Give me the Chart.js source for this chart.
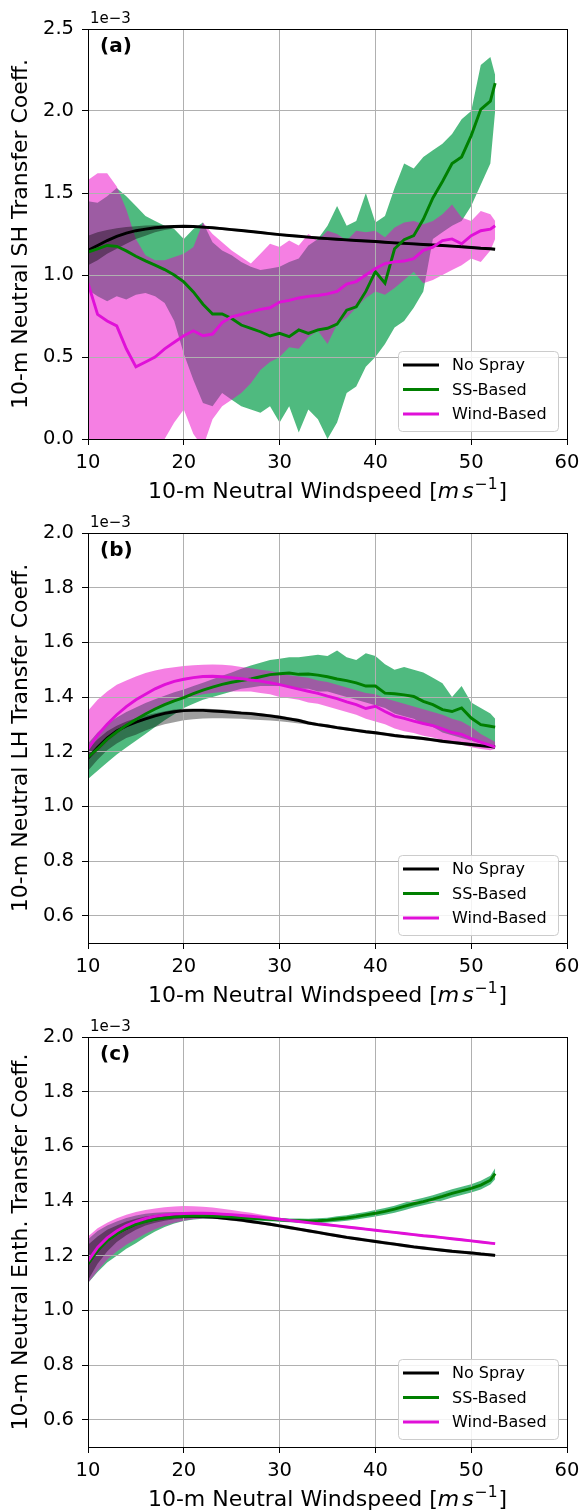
<!DOCTYPE html>
<html><head><meta charset="utf-8">
<script src="https://cdn.jsdelivr.net/npm/chart.js@4/dist/chart.umd.min.js"></script>
<style>
html,body{margin:0;padding:0;background:#fff;}
body{width:579px;height:1512px;position:relative;overflow:hidden;}
.panel{position:absolute;left:0;width:579px;height:504px;}
canvas{display:block;}
</style></head>
<body>
<div class="panel" style="top:0px"><canvas id="cA" width="579" height="504"></canvas></div>
<div class="panel" style="top:504px"><canvas id="cB" width="579" height="504"></canvas></div>
<div class="panel" style="top:1008px"><canvas id="cC" width="579" height="504"></canvas></div>
<script>
// ---------- data (transfer coefficients in units of 1e-3) ----------
const windspeed = [10,11,12,13,14,15,16,17,18,19,20,21,22,23,24,25,26,27,28,29,30,31,32,33,34,35,36,37,38,39,40,41,42,43,44,45,46,47,48,49,50,51,52,52.5];
const seriesNames = ['No Spray','SS-Based','Wind-Based'];
const xTickValues = [10,20,30,40,50,60];
const shTickValues = [0.0,0.5,1.0,1.5,2.0,2.5];
const lhTickValues = [0.6,0.8,1.0,1.2,1.4,1.6,1.8,2.0];
const enthTickValues = [0.6,0.8,1.0,1.2,1.4,1.6,1.8,2.0];

// (a) sensible heat
const shNoSpray   = [1.15,1.18,1.21,1.235,1.255,1.27,1.28,1.288,1.293,1.296,1.297,1.296,1.292,1.288,1.283,1.277,1.271,1.265,1.259,1.252,1.246,1.241,1.236,1.231,1.226,1.222,1.218,1.214,1.21,1.207,1.204,1.2,1.196,1.193,1.19,1.186,1.183,1.18,1.176,1.172,1.168,1.163,1.16,1.157];
const shNoSprayLo = [1.06,1.09,1.13,1.16,1.19,1.22,1.24,1.26,1.275,1.283,1.289,1.288,1.284,1.28,1.275,1.269,1.263,1.257,1.251,1.244,1.238,1.233,1.228,1.223,1.218,1.214,1.21,1.206,1.202,1.199,1.196,1.192,1.188,1.185,1.182,1.178,1.175,1.172,1.168,1.164,1.16,1.155,1.152,1.149];
const shNoSprayHi = [1.24,1.26,1.275,1.285,1.293,1.298,1.302,1.304,1.305,1.305,1.305,1.304,1.3,1.296,1.291,1.285,1.279,1.273,1.267,1.26,1.254,1.249,1.244,1.239,1.234,1.23,1.226,1.222,1.218,1.215,1.212,1.208,1.204,1.201,1.198,1.194,1.191,1.188,1.184,1.18,1.176,1.171,1.168,1.165];
const shSS   = [1.14,1.16,1.18,1.175,1.147,1.114,1.086,1.06,1.033,1.0,0.958,0.897,0.822,0.762,0.762,0.735,0.695,0.675,0.654,0.628,0.644,0.624,0.665,0.644,0.665,0.675,0.70,0.786,0.806,0.90,1.02,0.95,1.16,1.215,1.24,1.34,1.47,1.57,1.68,1.72,1.85,2.01,2.06,2.17];
const shSSLo = [0.91,0.87,0.84,0.87,0.85,0.88,0.89,0.87,0.83,0.72,0.52,0.36,0.22,0.20,0.28,0.24,0.20,0.18,0.16,0.20,0.10,0.20,0.04,0.18,0.12,0.00,0.10,0.28,0.32,0.44,0.50,0.58,0.68,0.72,0.80,0.90,1.22,1.26,1.30,1.33,1.42,1.55,1.68,2.0];
const shSSHi = [1.45,1.44,1.48,1.53,1.48,1.42,1.36,1.33,1.30,1.28,1.22,1.28,1.32,1.20,1.15,1.12,1.08,1.05,1.03,1.04,1.05,1.08,1.10,1.18,1.22,1.30,1.42,1.30,1.33,1.50,1.32,1.36,1.53,1.68,1.65,1.72,1.76,1.80,1.86,1.95,2.0,2.28,2.33,2.22];
const shWind   = [0.95,0.76,0.72,0.69,0.55,0.44,0.47,0.50,0.55,0.59,0.63,0.66,0.63,0.64,0.71,0.745,0.76,0.775,0.79,0.80,0.835,0.845,0.86,0.87,0.875,0.885,0.90,0.945,0.96,1.0,1.04,1.07,1.08,1.085,1.10,1.15,1.17,1.21,1.22,1.19,1.24,1.27,1.28,1.30];
const shWindLo = [-0.3,-0.3,-0.3,-0.3,-0.3,-0.3,-0.3,-0.2,0.0,0.10,0.18,0.03,-0.05,0.12,0.20,0.24,0.28,0.34,0.42,0.47,0.50,0.56,0.55,0.62,0.66,0.58,0.70,0.74,0.80,0.86,0.90,0.88,0.92,0.97,1.02,0.95,0.97,1.00,1.03,1.06,1.10,1.08,1.15,1.22];
const shWindHi = [1.58,1.62,1.62,1.54,1.40,1.22,1.12,1.09,1.09,1.11,1.13,1.17,1.32,1.25,1.20,1.15,1.11,1.07,1.13,1.19,1.17,1.21,1.18,1.25,1.21,1.27,1.25,1.21,1.27,1.26,1.27,1.23,1.29,1.32,1.33,1.31,1.33,1.37,1.43,1.35,1.33,1.39,1.37,1.33];

// (b) latent heat
const lhNoSpray   = [1.177,1.215,1.25,1.276,1.294,1.308,1.32,1.331,1.34,1.346,1.35,1.351,1.351,1.349,1.347,1.344,1.341,1.339,1.335,1.331,1.326,1.32,1.314,1.305,1.299,1.294,1.288,1.283,1.278,1.273,1.269,1.264,1.259,1.255,1.252,1.248,1.243,1.238,1.234,1.23,1.226,1.222,1.219,1.217];
const lhNoSprayLo = [1.13,1.17,1.205,1.23,1.25,1.262,1.277,1.29,1.30,1.308,1.315,1.319,1.321,1.322,1.322,1.321,1.32,1.318,1.316,1.314,1.311,1.308,1.303,1.299,1.293,1.288,1.282,1.277,1.272,1.267,1.263,1.258,1.253,1.249,1.246,1.242,1.237,1.232,1.228,1.224,1.22,1.216,1.213,1.211];
const lhNoSprayHi = [1.21,1.245,1.275,1.295,1.31,1.322,1.332,1.341,1.348,1.354,1.357,1.358,1.358,1.356,1.354,1.351,1.348,1.345,1.341,1.337,1.332,1.326,1.32,1.311,1.305,1.30,1.294,1.289,1.284,1.279,1.275,1.27,1.265,1.261,1.258,1.254,1.249,1.244,1.24,1.236,1.232,1.228,1.225,1.223];
const lhSS   = [1.18,1.21,1.245,1.272,1.297,1.318,1.338,1.356,1.372,1.386,1.398,1.412,1.425,1.436,1.446,1.454,1.46,1.466,1.474,1.482,1.485,1.488,1.483,1.484,1.48,1.474,1.466,1.46,1.452,1.44,1.44,1.414,1.412,1.408,1.402,1.384,1.372,1.354,1.347,1.36,1.323,1.299,1.293,1.29];
const lhSSLo = [1.10,1.13,1.16,1.19,1.215,1.24,1.265,1.29,1.315,1.337,1.36,1.375,1.39,1.40,1.41,1.42,1.43,1.435,1.44,1.44,1.44,1.44,1.43,1.43,1.42,1.42,1.41,1.40,1.39,1.38,1.37,1.36,1.34,1.33,1.32,1.30,1.29,1.27,1.26,1.25,1.24,1.23,1.22,1.22];
const lhSSHi = [1.23,1.27,1.30,1.325,1.345,1.362,1.378,1.392,1.405,1.417,1.427,1.44,1.452,1.465,1.478,1.49,1.503,1.515,1.525,1.535,1.54,1.545,1.545,1.55,1.555,1.55,1.57,1.545,1.535,1.56,1.55,1.52,1.50,1.51,1.50,1.49,1.47,1.45,1.40,1.44,1.38,1.36,1.34,1.32];
const lhWind   = [1.21,1.26,1.30,1.335,1.365,1.39,1.41,1.43,1.445,1.457,1.465,1.471,1.475,1.476,1.474,1.471,1.467,1.462,1.458,1.452,1.445,1.437,1.429,1.421,1.413,1.403,1.394,1.382,1.372,1.358,1.366,1.347,1.33,1.322,1.312,1.303,1.295,1.283,1.27,1.263,1.248,1.235,1.223,1.217];
const lhWindLo = [1.17,1.20,1.235,1.265,1.29,1.315,1.335,1.355,1.37,1.383,1.395,1.403,1.41,1.415,1.418,1.42,1.42,1.42,1.415,1.41,1.40,1.395,1.39,1.38,1.375,1.365,1.355,1.345,1.335,1.32,1.31,1.30,1.285,1.275,1.268,1.258,1.252,1.242,1.232,1.226,1.216,1.21,1.205,1.21];
const lhWindHi = [1.35,1.39,1.42,1.445,1.46,1.475,1.488,1.497,1.504,1.509,1.513,1.516,1.518,1.519,1.518,1.515,1.51,1.505,1.50,1.495,1.488,1.48,1.475,1.47,1.46,1.455,1.445,1.435,1.425,1.415,1.41,1.395,1.385,1.375,1.365,1.355,1.345,1.335,1.32,1.31,1.29,1.265,1.245,1.235];

// (c) enthalpy
const ehNoSpray   = [1.172,1.22,1.257,1.282,1.30,1.316,1.327,1.334,1.34,1.343,1.344,1.344,1.343,1.341,1.338,1.334,1.33,1.325,1.32,1.315,1.309,1.303,1.297,1.291,1.285,1.279,1.273,1.267,1.262,1.257,1.252,1.247,1.242,1.237,1.232,1.228,1.224,1.22,1.216,1.213,1.21,1.206,1.203,1.201];
const ehNoSprayLo = [1.11,1.17,1.215,1.25,1.275,1.295,1.31,1.32,1.328,1.333,1.336,1.338,1.337,1.335,1.332,1.328,1.324,1.319,1.314,1.309,1.303,1.297,1.291,1.285,1.279,1.273,1.267,1.261,1.256,1.251,1.246,1.241,1.236,1.231,1.226,1.222,1.218,1.214,1.21,1.207,1.204,1.2,1.197,1.195];
const ehNoSprayHi = [1.24,1.27,1.295,1.31,1.325,1.335,1.343,1.348,1.352,1.353,1.352,1.35,1.349,1.347,1.344,1.34,1.336,1.331,1.326,1.321,1.315,1.309,1.303,1.297,1.291,1.285,1.279,1.273,1.268,1.263,1.258,1.253,1.248,1.243,1.238,1.234,1.23,1.226,1.222,1.219,1.216,1.212,1.209,1.207];
const ehSS   = [1.17,1.22,1.255,1.28,1.30,1.315,1.325,1.333,1.338,1.342,1.344,1.345,1.345,1.345,1.343,1.341,1.339,1.337,1.335,1.333,1.331,1.329,1.328,1.327,1.328,1.330,1.334,1.338,1.343,1.349,1.355,1.362,1.37,1.38,1.39,1.398,1.407,1.417,1.428,1.437,1.446,1.458,1.476,1.50];
const ehSSLo = [1.10,1.14,1.175,1.20,1.225,1.245,1.268,1.288,1.305,1.318,1.327,1.332,1.335,1.336,1.335,1.334,1.332,1.33,1.328,1.326,1.324,1.322,1.32,1.319,1.319,1.321,1.324,1.328,1.332,1.338,1.343,1.35,1.357,1.366,1.376,1.384,1.393,1.402,1.413,1.422,1.431,1.442,1.46,1.48];
const ehSSHi = [1.26,1.29,1.31,1.325,1.338,1.347,1.353,1.357,1.359,1.36,1.36,1.359,1.357,1.355,1.352,1.349,1.347,1.344,1.342,1.34,1.338,1.336,1.336,1.335,1.337,1.339,1.344,1.348,1.354,1.36,1.367,1.374,1.383,1.394,1.404,1.412,1.421,1.432,1.443,1.452,1.461,1.474,1.492,1.52];
const ehWind   = [1.18,1.23,1.265,1.29,1.31,1.325,1.336,1.344,1.349,1.352,1.354,1.355,1.355,1.354,1.352,1.35,1.347,1.344,1.341,1.337,1.333,1.329,1.325,1.321,1.317,1.313,1.309,1.305,1.301,1.297,1.293,1.289,1.285,1.281,1.277,1.273,1.27,1.266,1.262,1.258,1.254,1.25,1.246,1.244];
const ehWindLo = [1.10,1.145,1.185,1.215,1.24,1.26,1.28,1.297,1.31,1.32,1.328,1.333,1.336,1.337,1.337,1.337,1.336,1.334,1.332,1.33,1.327,1.325,1.321,1.317,1.313,1.309,1.305,1.301,1.297,1.293,1.289,1.285,1.281,1.277,1.273,1.269,1.266,1.262,1.258,1.254,1.25,1.246,1.242,1.24];
const ehWindHi = [1.27,1.30,1.32,1.337,1.35,1.36,1.367,1.373,1.377,1.38,1.382,1.381,1.379,1.376,1.372,1.367,1.362,1.357,1.351,1.345,1.339,1.333,1.329,1.325,1.321,1.317,1.313,1.309,1.305,1.301,1.297,1.293,1.289,1.285,1.281,1.277,1.274,1.27,1.266,1.262,1.258,1.254,1.25,1.248];

// ---------- styling ----------
const FONT = "'DejaVu Sans', 'Liberation Sans', sans-serif";
const LINE_COLORS = {black:'#000000', green:'#007f00', magenta:'#e010d8'};
const FILL_COLORS = {black:'rgba(0,0,0,0.38)', green:'rgba(60,179,113,0.9)', magenta:'rgba(235,0,200,0.5)'};

Chart.defaults.font.family = FONT;

const pts = ys => windspeed.map((x, i) => ({x: x, y: ys[i]}));
const align = p => Math.round(p - 0.5) + 0.5;

function lineDs(label, ys, color, order, rank, gridAbove) {
  return {label: label, data: pts(ys), borderColor: color, backgroundColor: color, borderWidth: 2.9,
          pointRadius: 0, fill: false, tension: 0, order: order, legendRank: rank, gridAbove: !!gridAbove};
}
function bandDs(lo, hi, color, order) {
  return [
    {label: '', data: pts(hi), borderWidth: 0, pointRadius: 0, fill: false, order: order},
    {label: '', data: pts(lo), borderWidth: 0, pointRadius: 0, fill: '-1', backgroundColor: color, order: order}
  ];
}

const panelDecor = {
  id: 'panelDecor',
  beforeDatasetDraw(chart, args) {
    const ds = chart.data.datasets[args.index];
    if (!ds.gridAbove) return;
    const ctx = chart.ctx, a = chart.chartArea, xs = chart.scales.x, ys = chart.scales.y;
    ctx.save();
    ctx.strokeStyle = '#b0b0b0'; ctx.lineWidth = 1;
    xs.ticks.forEach(t => {
      if (t.value <= xs.min || t.value >= xs.max) return;
      const px = align(xs.getPixelForValue(t.value));
      ctx.beginPath(); ctx.moveTo(px, a.top); ctx.lineTo(px, a.bottom); ctx.stroke();
    });
    ys.ticks.forEach(t => {
      if (t.value <= ys.min || t.value >= ys.max) return;
      const py = align(ys.getPixelForValue(t.value));
      ctx.beginPath(); ctx.moveTo(a.left, py); ctx.lineTo(a.right, py); ctx.stroke();
    });
    ctx.restore();
  },
  afterDatasetsDraw(chart) {
    const ctx = chart.ctx, a = chart.chartArea;
    ctx.save();
    ctx.strokeStyle = '#000'; ctx.lineWidth = 1;
    const l = align(a.left), r = align(a.right), t = align(a.top), b = align(a.bottom);
    ctx.strokeRect(l, t, r - l, b - t);
    ctx.restore();
  },
  afterDraw(chart, args, opts) {
    const ctx = chart.ctx, a = chart.chartArea;
    ctx.save();
    // offset text
    ctx.fillStyle = '#000';
    ctx.font = '15px ' + FONT; ctx.textAlign = 'left'; ctx.textBaseline = 'alphabetic';
    ctx.fillText(opts.offsetText, a.left + 2, a.top - 6);
    // panel label
    ctx.font = 'bold 20px ' + FONT; ctx.textBaseline = 'middle';
    ctx.fillText(opts.label, a.left + 12, a.top + 18);
    // x-axis title with math units
    const parts = [
      {t: '10-m Neutral Windspeed [', f: '22px ' + FONT, dy: 0, gap: 0},
      {t: 'm', f: 'italic 22px ' + FONT, dy: 0, gap: 3},
      {t: 's', f: 'italic 22px ' + FONT, dy: 0, gap: 1},
      {t: '\u22121', f: '15.5px ' + FONT, dy: -9, gap: 1},
      {t: ']', f: '22px ' + FONT, dy: 0, gap: 0}
    ];
    let total = 0;
    parts.forEach(p => { ctx.font = p.f; p.w = ctx.measureText(p.t).width; total += p.w + p.gap; });
    let x = (a.left + a.right) / 2 - total / 2;
    const base = a.bottom + 59;
    ctx.textBaseline = 'alphabetic'; ctx.textAlign = 'left';
    parts.forEach(p => { ctx.font = p.f; ctx.fillText(p.t, x, base + p.dy); x += p.w + p.gap; });
    // legend
    const items = chart.data.datasets.filter(d => d.legendRank !== undefined).sort((p, q) => p.legendRank - q.legendRank);
    const bw = 160, bh = 80;
    const bx = Math.round(a.right - 9 - bw), by = Math.round(a.bottom - 8 - bh);
    ctx.beginPath();
    if (ctx.roundRect) ctx.roundRect(bx + 0.5, by + 0.5, bw, bh, 4); else ctx.rect(bx + 0.5, by + 0.5, bw, bh);
    ctx.fillStyle = 'rgba(255,255,255,0.85)'; ctx.fill();
    ctx.strokeStyle = '#cccccc'; ctx.lineWidth = 1; ctx.stroke();
    ctx.font = '16px ' + FONT; ctx.textBaseline = 'middle';
    items.forEach((d, i) => {
      const yy = by + 14 + i * 24.5;
      ctx.strokeStyle = d.borderColor; ctx.lineWidth = 3;
      ctx.beginPath(); ctx.moveTo(bx + 5, yy); ctx.lineTo(bx + 41, yy); ctx.stroke();
      ctx.fillStyle = '#000'; ctx.fillText(d.label, bx + 54, yy + 1);
    });
    ctx.restore();
  }
};

function makePanel(id, cfg) {
  const datasets = [
    lineDs(seriesNames[2], cfg.wind, LINE_COLORS.magenta, 0, 2, false),
    lineDs(seriesNames[1], cfg.ss, LINE_COLORS.green, 1, 1, false),
    lineDs(seriesNames[0], cfg.no, LINE_COLORS.black, 2, 0, true)
  ].concat(
    bandDs(cfg.noLo, cfg.noHi, FILL_COLORS.black, 3),
    bandDs(cfg.windLo, cfg.windHi, FILL_COLORS.magenta, 4),
    bandDs(cfg.ssLo, cfg.ssHi, FILL_COLORS.green, 5)
  );
  const gridOpts = {color: '#b0b0b0', lineWidth: 1, tickLength: 6, tickColor: '#000', tickWidth: 1, drawTicks: true};
  return new Chart(document.getElementById(id), {
    type: 'line',
    data: {datasets: datasets},
    plugins: [panelDecor],
    options: {
      responsive: false, animation: false, events: [],
      layout: {padding: {left: 0, right: 12, top: 29, bottom: 0}},
      plugins: {legend: {display: false}, tooltip: {enabled: false},
                panelDecor: {label: cfg.label, offsetText: '1e\u22123'}},
      scales: {
        x: {type: 'linear', min: 10, max: 60,
            afterBuildTicks: s => { s.ticks = xTickValues.map(v => ({value: v})); },
            afterFit: s => { s.height = 65; s.paddingLeft = 0; s.paddingRight = 0; },
            ticks: {color: '#000', font: {size: 19.5, family: FONT}, padding: 6, maxRotation: 0, minRotation: 0, autoSkip: false,
                    callback: v => String(v)},
            grid: gridOpts, border: {color: '#000', width: 1}},
        y: {type: 'linear', min: cfg.yMin, max: cfg.yMax,
            afterBuildTicks: s => { s.ticks = cfg.yTicks.map(v => ({value: v})); },
            afterFit: s => { s.width = 88; s.paddingTop = 0; s.paddingBottom = 0; },
            ticks: {color: '#000', font: {size: 19.5, family: FONT}, padding: 8, autoSkip: false,
                    callback: v => Number(v).toFixed(1)},
            grid: gridOpts, border: {color: '#000', width: 1},
            title: {display: true, text: cfg.yTitle, color: '#000', font: {size: 22, family: FONT}, padding: {top: 8, bottom: 0}}}
      }
    }
  });
}

makePanel('cA', {label: '(a)', yTitle: '10-m Neutral SH Transfer Coeff.', yMin: 0, yMax: 2.5, yTicks: shTickValues,
  no: shNoSpray, noLo: shNoSprayLo, noHi: shNoSprayHi, ss: shSS, ssLo: shSSLo, ssHi: shSSHi, wind: shWind, windLo: shWindLo, windHi: shWindHi});
makePanel('cB', {label: '(b)', yTitle: '10-m Neutral LH Transfer Coeff.', yMin: 0.5, yMax: 2.0, yTicks: lhTickValues,
  no: lhNoSpray, noLo: lhNoSprayLo, noHi: lhNoSprayHi, ss: lhSS, ssLo: lhSSLo, ssHi: lhSSHi, wind: lhWind, windLo: lhWindLo, windHi: lhWindHi});
makePanel('cC', {label: '(c)', yTitle: '10-m Neutral Enth. Transfer Coeff.', yMin: 0.5, yMax: 2.0, yTicks: enthTickValues,
  no: ehNoSpray, noLo: ehNoSprayLo, noHi: ehNoSprayHi, ss: ehSS, ssLo: ehSSLo, ssHi: ehSSHi, wind: ehWind, windLo: ehWindLo, windHi: ehWindHi});
</script>
</body></html>
